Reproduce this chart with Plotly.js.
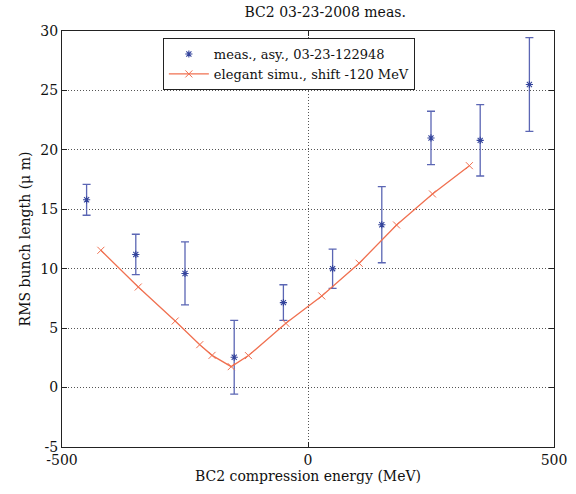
<!DOCTYPE html>
<html>
<head>
<meta charset="utf-8">
<script src="https://cdn.plot.ly/plotly-3.0.1.min.js"></script>
<style>html,body{margin:0;padding:0;background:#fff;}#chart{width:576px;height:494px;}</style>
</head>
<body>
<div id="chart"></div>
<script>
// Measured data
const measEnergy = [-450, -350, -250, -150, -50, 50, 150, 250, 350, 450];
const measLength = [15.8, 11.2, 9.6, 2.55, 7.15, 10.0, 13.7, 21.0, 20.8, 25.5];
const measError  = [1.3, 1.7, 2.65, 3.1, 1.5, 1.65, 3.2, 2.25, 3.0, 3.95];
// Simulation data
const simEnergy = [-421, -345, -270, -220, -195, -156, -121, -45, 28, 104, 180, 253, 328];
const simLength = [11.55, 8.46, 5.6, 3.61, 2.71, 1.76, 2.69, 5.41, 7.71, 10.46, 13.68, 16.29, 18.67];
const xTicks = [-500, 0, 500];
const yTicks = [-5, 0, 5, 10, 15, 20, 25, 30];

const font = 'DejaVu Serif, serif';

const traces = [
  {
    x: measEnergy, y: measLength, type: 'scatter', mode: 'markers',
    name: 'meas., asy., 03-23-122948',
    marker: {symbol: 'asterisk-open', size: 6, color: '#34449c', line: {width: 1.1, color: '#34449c'}},
    error_y: {type: 'data', array: measError, visible: true, color: '#5b66b4', thickness: 1.3, width: 4}
  },
  {
    x: simEnergy, y: simLength, type: 'scatter', mode: 'lines+markers',
    name: 'elegant simu., shift -120 MeV',
    line: {color: '#f07050', width: 1.3},
    marker: {symbol: 'x-thin-open', size: 7, color: '#f07050', line: {width: 1, color: '#f07050'}}
  }
];

const layout = {
  width: 576, height: 494,
  margin: {l: 62, r: 22, t: 31, b: 47},
  paper_bgcolor: '#ffffff', plot_bgcolor: '#ffffff',
  font: {family: font, size: 14, color: '#111'},
  title: {text: 'BC2 03-23-2008 meas.', x: 0.535, xref: 'paper', xanchor: 'center', y: 0.975, yanchor: 'middle', font: {family: font, size: 14, color: '#111'}},
  showlegend: true,
  legend: {x: 0.205, y: 0.983, xanchor: 'left', yanchor: 'top', bgcolor: '#ffffff', bordercolor: '#222', borderwidth: 1, itemwidth: 40, font: {family: font, size: 13, color: '#111'}, tracegroupgap: 0},
  xaxis: {
    range: [-500, 500], tickvals: xTicks, ticktext: xTicks.map(String),
    showline: true, linecolor: '#222', linewidth: 1, mirror: 'ticks',
    ticks: 'inside', ticklen: 5, tickcolor: '#222',
    showgrid: true, gridcolor: '#555', griddash: '1px,2px', gridwidth: 1,
    zeroline: false,
    tickfont: {family: font, size: 14, color: '#111'},
    title: {text: 'BC2 compression energy (MeV)', font: {family: font, size: 14, color: '#111'}, standoff: 4}
  },
  yaxis: {
    range: [-5, 30], tickvals: yTicks, ticktext: yTicks.map(String),
    showline: true, linecolor: '#222', linewidth: 1, mirror: 'ticks',
    ticks: 'inside', ticklen: 5, tickcolor: '#222',
    showgrid: true, gridcolor: '#555', griddash: '1px,2px', gridwidth: 1,
    zeroline: false,
    tickfont: {family: font, size: 14, color: '#111'},
    title: {text: 'RMS bunch length (μ m)', font: {family: font, size: 14, color: '#111'}, standoff: 6}
  }
};

Plotly.newPlot('chart', traces, layout, {displayModeBar: false, staticPlot: true});
</script>
</body>
</html>
